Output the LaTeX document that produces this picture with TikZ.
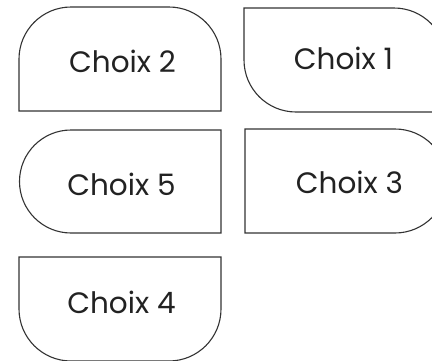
\documentclass[tikz,border=0pt]{standalone}
\usepackage{fontspec}
\setmainfont{Poppins}
\definecolor{edge}{HTML}{333333}
\definecolor{ink}{HTML}{222222}
\begin{document}
\begin{tikzpicture}[x=1pt,y=1pt,
  shapebox/.style={draw=edge,line width=1.1pt,fill=white},
  label/.style={anchor=base,text=ink,inner sep=0pt,font=\fontsize{29.5}{32}\selectfont}]
\useasboundingbox (0,0) rectangle (432,360);
% Choix 2 : top corners rounded
\draw[shapebox] (19,249) -- (19,301) arc[start angle=180,end angle=90,radius=52pt] -- (169,353) arc[start angle=90,end angle=0,radius=52pt] -- (221,249) -- cycle;
% Choix 1 : top-right and bottom-left rounded
\draw[shapebox] (244,352) -- (394,352) arc[start angle=90,end angle=0,radius=52pt] -- (446,248) -- (296,248) arc[start angle=270,end angle=180,radius=52pt] -- cycle;
% Choix 5 : left side rounded
\draw[shapebox] (221,230) -- (71,230) arc[start angle=90,end angle=270,radius=51.5pt] -- (221,127) -- cycle;
% Choix 3 : right side rounded
\draw[shapebox] (245,231) -- (395,231) arc[start angle=90,end angle=-90,radius=52pt] -- (245,127) -- cycle;
% Choix 4 : bottom corners rounded
\draw[shapebox] (19,103) -- (19,51) arc[start angle=180,end angle=270,radius=52pt] -- (169,-1) arc[start angle=270,end angle=360,radius=52pt] -- (221,103) -- cycle;
\node[label] (c2) at (122.5,288) {Choix 2};
\node[label] (c1) at (343.5,291) {Choix 1};
\node[label] (c5) at (121.5,165) {Choix 5};
\node[label] (c3) at (349.5,167) {Choix 3};
\node[label] (c4) at (121.5,47) {Choix 4};
\end{tikzpicture}
\end{document}
